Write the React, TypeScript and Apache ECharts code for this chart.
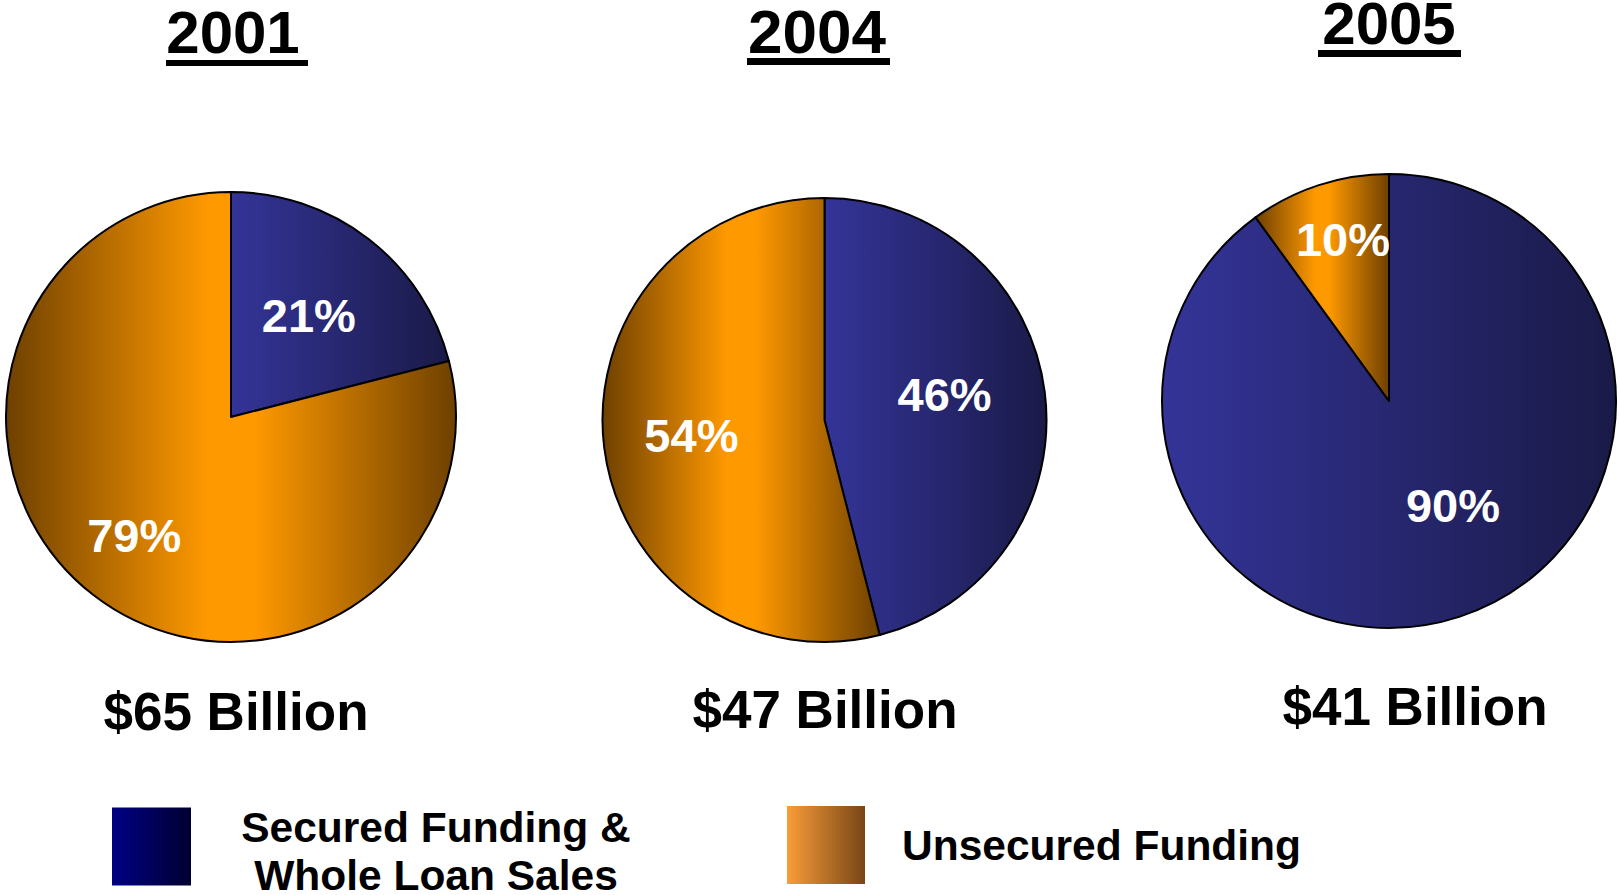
import React, { useEffect, useRef } from "react";
import * as echarts from "echarts";

// ---- data ----
const YEARS = ["2001", "2004", "2005"];
const TOTALS = ["$65 Billion", "$47 Billion", "$41 Billion"];
const CATEGORIES = ["Secured Funding & Whole Loan Sales", "Unsecured Funding"];
const SECURED = [21, 46, 90];
const UNSECURED = [79, 54, 10];

// ---- layout / style ----
const FONT = "'Liberation Sans', Arial, Helvetica, sans-serif";
const PIE_CENTERS: [number, number][] = [
  [231, 417],
  [824.5, 420],
  [1389, 401],
];
const PIE_RADII = [225, 222, 227];
const TITLE_X = [233, 817, 1389];
const TITLE_TOP = [2, 0, -7];
const TITLE_SIZE = [60, 62, 60];
const TOTAL_X = [236, 825, 1415];
const TOTAL_TOP = [685, 683, 680];
const UNDERLINES: [number, number, number, number][] = [
  [166, 60, 142, 6],
  [747, 58, 143, 7],
  [1318, 50, 143, 7],
];
const LABEL_OFFSETS: [number, number][][] = [
  [[7, -10], [-26, 27]],
  [[7, -11], [-20, 1]],
  [[28, -6], [-10, -51]],
];

const blueSlice = {
  type: "linear", x: 0, y: 0, x2: 1, y2: 0,
  colorStops: [
    { offset: 0, color: "#343499" },
    { offset: 1, color: "#1a1a48" },
  ],
};
const orangeSlice = {
  type: "linear", x: 0, y: 0, x2: 1, y2: 0,
  colorStops: [
    { offset: 0, color: "#6e4000" },
    { offset: 0.45, color: "#ff9900" },
    { offset: 0.55, color: "#ff9900" },
    { offset: 1, color: "#6e4000" },
  ],
};
const blueLegend = {
  type: "linear", x: 0, y: 0, x2: 1, y2: 0,
  colorStops: [
    { offset: 0, color: "#000084" },
    { offset: 1, color: "#000030" },
  ],
};
const orangeLegend = {
  type: "linear", x: 0, y: 0, x2: 1, y2: 0,
  colorStops: [
    { offset: 0, color: "#fa9c3a" },
    { offset: 1, color: "#774615" },
  ],
};

export default function App() {
  const ref = useRef<HTMLDivElement>(null);

  useEffect(() => {
    document.body.style.margin = "0";
    document.body.style.overflow = "hidden";
    const chart = echarts.init(ref.current!, null, { renderer: "svg" });

    const series = YEARS.map((y, i) => ({
      type: "pie",
      name: y,
      center: PIE_CENTERS[i],
      radius: PIE_RADII[i],
      startAngle: 90,
      clockwise: true,
      avoidLabelOverlap: false,
      silent: true,
      labelLine: { show: false },
      itemStyle: { borderColor: "#000", borderWidth: 2 },
      label: {
        show: true,
        position: "inside",
        formatter: "{c}%",
        color: "#fff",
        fontSize: 47,
        fontWeight: "bold",
        fontFamily: FONT,
      },
      emphasis: { disabled: true },
      data: [
        {
          name: CATEGORIES[0],
          value: SECURED[i],
          itemStyle: { color: blueSlice },
          label: { offset: LABEL_OFFSETS[i][0] },
        },
        {
          name: CATEGORIES[1],
          value: UNSECURED[i],
          itemStyle: { color: orangeSlice },
          label: { offset: LABEL_OFFSETS[i][1] },
        },
      ],
    }));

    const titles: any[] = [];
    YEARS.forEach((y, i) => {
      titles.push({
        text: y,
        left: TITLE_X[i],
        top: TITLE_TOP[i],
        textAlign: "center",
        padding: 0,
        textStyle: { fontSize: TITLE_SIZE[i], fontWeight: "bold", color: "#000", fontFamily: FONT },
      });
      titles.push({
        text: TOTALS[i],
        left: TOTAL_X[i],
        top: TOTAL_TOP[i],
        textAlign: "center",
        padding: 0,
        textStyle: { fontSize: 53, fontWeight: "bold", color: "#000", fontFamily: FONT },
      });
    });

    const legendText = { fontSize: 42.5, fontWeight: "bold", color: "#000", fontFamily: FONT };

    chart.setOption({
      animation: false,
      backgroundColor: "#fff",
      title: titles,
      legend: [
        {
          left: 112,
          top: 806,
          padding: 0,
          selectedMode: false,
          itemWidth: 79,
          itemHeight: 78,
          icon: "rect",
          itemStyle: { borderWidth: 0 },
          data: [{ name: CATEGORIES[0], itemStyle: { color: blueLegend, borderWidth: 0 } }],
          formatter: () => "{a|Secured Funding &}\n{a|Whole Loan Sales}",
          textStyle: {
            ...legendText,
            padding: [10, 0, 0, 0],
            rich: { a: { ...legendText, width: 480, align: "center", lineHeight: 48 } },
          },
        },
        {
          left: 787,
          top: 806,
          padding: 0,
          selectedMode: false,
          itemWidth: 78,
          itemHeight: 78,
          icon: "rect",
          itemStyle: { borderWidth: 0 },
          data: [{ name: CATEGORIES[1], itemStyle: { color: orangeLegend, borderWidth: 0 } }],
          textStyle: { ...legendText, padding: [0, 0, 0, 32] },
        },
      ],
      graphic: UNDERLINES.map(([x, y, w, h]) => ({
        type: "rect",
        shape: { x, y, width: w, height: h },
        style: { fill: "#000" },
        silent: true,
      })),
      series,
    });

    return () => chart.dispose();
  }, []);

  return <div ref={ref} style={{ width: 1619, height: 895 }} />;
}
